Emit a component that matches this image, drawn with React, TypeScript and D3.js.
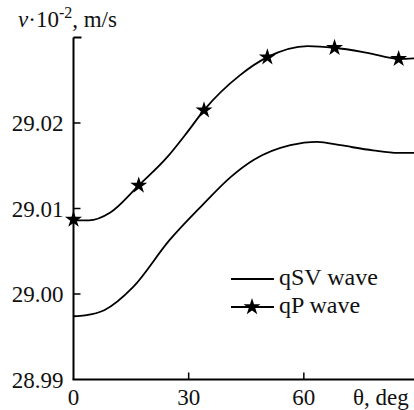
import React from "react";
import * as d3 from "d3";

const qsvTheta = [0, 3, 8, 15.5, 25, 34, 41, 47, 56.5, 63.5, 69.5, 78, 84.5, 90];
const qsvValue = [28.9974, 28.9975, 28.9981, 29.0008, 29.0063, 29.0106, 29.0137, 29.0157, 29.0174, 29.0178, 29.0174, 29.0168, 29.0165, 29.0165];

const qpTheta = [0, 4, 9.5, 17, 24.4, 29.6, 34, 43.4, 50.5, 61, 68, 76.6, 84.7, 90];
const qpValue = [29.0086, 29.0086, 29.0095, 29.0127, 29.016, 29.0189, 29.0215, 29.0256, 29.0277, 29.029, 29.0288, 29.0282, 29.0275, 29.0276];

const starTheta = [0, 17, 34, 50.5, 68, 84.7];
const starValue = [29.0087, 29.0127, 29.0215, 29.0277, 29.0288, 29.0275];

const xTicks = [0, 30, 60];
const yTicks = [28.99, 29.0, 29.01, 29.02];
const yTickLabels = ["28.99", "29.00", "29.01", "29.02"];

const legendLabels = ["qSV wave", "qP wave"];

const W = 414;
const H = 410;

export default function App() {
  const x = d3.scaleLinear().domain([0, 90]).range([73.5, 419]);
  const y = d3.scaleLinear().domain([28.99, 29.03]).range([379.5, 37.5]);

  const line = d3
    .line<[number, number]>()
    .x((d) => x(d[0]))
    .y((d) => y(d[1]))
    .curve(d3.curveMonotoneX);

  const qsvPts = qsvTheta.map((t, i) => [t, qsvValue[i]] as [number, number]);
  const qpPts = qpTheta.map((t, i) => [t, qpValue[i]] as [number, number]);
  const star = d3.symbol().type(d3.symbolStar).size(90)();

  const x0 = x(0);
  const yBot = y(28.99);
  const yTop = y(29.03);

  return (
    <svg width={W} height={H} className="chart" style={{ position: "absolute", left: 0, top: 0 }}>
      <style>{".chart text, .chart tspan { font-family: 'Liberation Serif', serif !important; fill: #111; }"}</style>
      {/* axes */}
      <line x1={x0} x2={x0} y1={yTop} y2={yBot} stroke="#000" strokeWidth={2} />
      <line x1={x0 - 1} x2={W} y1={yBot} y2={yBot} stroke="#000" strokeWidth={2} />
      <line x1={x0} x2={x0 + 8} y1={yTop} y2={yTop} stroke="#000" strokeWidth={2} />
      {yTicks.slice(1).map((t) => (
        <line key={t} x1={x0} x2={x0 + 7} y1={y(t)} y2={y(t)} stroke="#000" strokeWidth={1.5} />
      ))}
      {xTicks.slice(1).map((t) => (
        <line key={t} x1={x(t)} x2={x(t)} y1={yBot} y2={yBot - 7} stroke="#000" strokeWidth={1.5} />
      ))}
      {yTicks.map((t, i) => (
        <text key={t} x={x0 - 10} y={y(t) + 8} fontSize={23} textAnchor="end">
          {yTickLabels[i]}
        </text>
      ))}
      {xTicks.map((t) => (
        <text key={t} x={x(t)} y={405} fontSize={23} textAnchor="middle">
          {t}
        </text>
      ))}
      <text x={353} y={405} fontSize={23}>
        θ, deg
      </text>
      <text x={18} y={27} fontSize={23}>
        <tspan fontStyle="italic">v</tspan>
        <tspan>·10</tspan>
        <tspan fontSize={16} dy={-9}>-2</tspan>
        <tspan dy={9}>, m/s</tspan>
      </text>

      {/* curves */}
      <path d={line(qsvPts) || ""} fill="none" stroke="#000" strokeWidth={1.8} />
      <path d={line(qpPts) || ""} fill="none" stroke="#000" strokeWidth={1.8} />
      {starTheta.map((t, i) => (
        <path key={t} d={star || ""} transform={`translate(${x(t)},${y(starValue[i])})`} fill="#000" />
      ))}

      {/* legend */}
      <line x1={231} x2={274} y1={279} y2={279} stroke="#000" strokeWidth={1.8} />
      <text x={279} y={285} fontSize={24}>{legendLabels[0]}</text>
      <line x1={231} x2={274} y1={307} y2={307} stroke="#000" strokeWidth={1.8} />
      <path d={star || ""} transform="translate(252,307)" fill="#000" />
      <text x={279} y={313} fontSize={24}>{legendLabels[1]}</text>
    </svg>
  );
}
